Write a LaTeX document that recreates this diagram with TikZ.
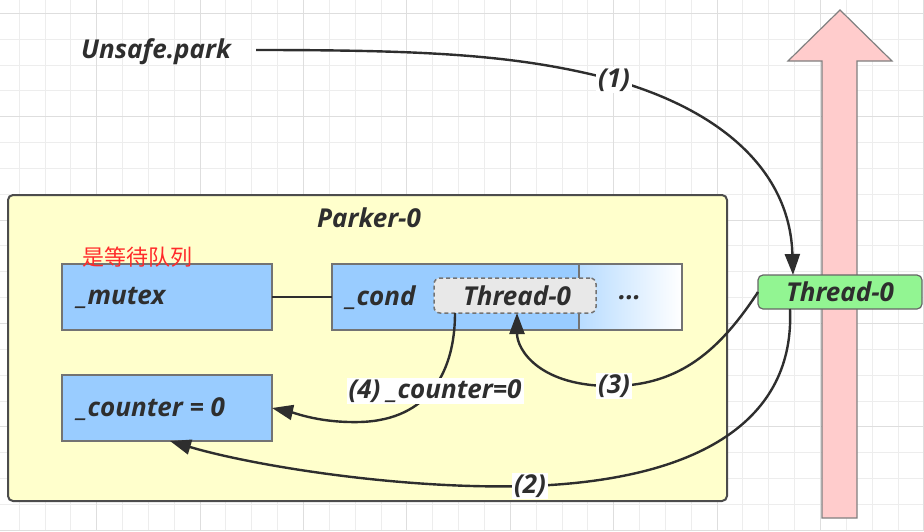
\documentclass[tikz,border=0pt]{standalone}
\usepackage{fontspec}
\setmainfont{Open Sans}
\newfontfamily\cjk{Noto Sans CJK SC}
\usetikzlibrary{arrows.meta}
\definecolor{txt}{HTML}{2E2E2E}
\definecolor{gridminor}{HTML}{EDEDED}
\definecolor{gridmajor}{HTML}{DEDEDE}
\definecolor{parkerfill}{HTML}{FFFFCC}
\definecolor{bluefill}{HTML}{99CCFF}
\definecolor{lightblue}{HTML}{B8DCFF}
\definecolor{greenfill}{HTML}{92F592}
\definecolor{pinkfill}{HTML}{FFCCCC}
\definecolor{dashfill}{HTML}{E8E8E8}
\definecolor{redtext}{HTML}{FF2A2A}
\tikzset{
  lbl/.style={text=txt, font=\fontsize{26}{30}\selectfont\bfseries\itshape, inner sep=1pt},
  lblbg/.style={lbl, fill=white, inner sep=2pt},
  bluebox/.style={draw=black!55, line width=1.2pt, fill=bluefill, minimum width=210pt, minimum height=66pt, anchor=north west, outer sep=0pt},
  conn/.style={draw=txt, line width=2.4pt, -{Triangle[length=21pt,width=15pt]}},
  plainconn/.style={draw=txt, line width=2.4pt},
}
\begin{document}
\begin{tikzpicture}[x=1pt,y=-1pt]
\useasboundingbox (0,0) rectangle (924,531);
\fill[white] (0,0) rectangle (924,531);
% grid
\foreach \i in {0,...,37} {
  \draw[gridminor, line width=1pt] ({-6.7+25.85*\i},0) -- ({-6.7+25.85*\i},531);
}
\foreach \j in {0,...,21} {
  \draw[gridminor, line width=1pt] (0,{13.3+25.85*\j}) -- (924,{13.3+25.85*\j});
}
\foreach \i in {0,...,9} {
  \draw[gridmajor, line width=1pt] ({-6.7+103.4*\i},0) -- ({-6.7+103.4*\i},531);
}
\foreach \j in {0,...,5} {
  \draw[gridmajor, line width=1pt] (0,{13.3+103.4*\j}) -- (924,{13.3+103.4*\j});
}

% big pink arrow
\draw[draw=black!50, line width=1.2pt, fill=pinkfill]
  (822,518) -- (822,61) -- (788,61) -- (840,10) -- (892,61) -- (857,61) -- (857,518) -- cycle;

% Parker box
\node[draw=black!70, line width=2pt, fill=parkerfill, rounded corners=5pt,
      minimum width=719pt, minimum height=306pt, anchor=north west, outer sep=0pt] (parker) at (8,195) {};
\node[lbl] (parkerlbl) at (369,218) {Parker-0};

% mutex
\node[bluebox] (mutex) at (62,264) {};
\node[lbl, anchor=west] (mutextxt) at (76,298) {\_mutex};
\node[text=redtext, font=\cjk\fontsize{22}{26}\selectfont, inner sep=0pt, anchor=west] (redtxt) at (82,257) {是等待队列};

% cond
\node[bluebox, minimum width=247pt] (cond) at (332,264) {};
\node[draw=black!55, line width=1.2pt, left color=lightblue, right color=white,
      minimum width=103pt, minimum height=66pt, anchor=north west, outer sep=0pt] (condrest) at (579,264) {};
\node[lbl, anchor=west] (condtxt) at (345,298) {\_cond};
\node[draw=black!55, dash pattern=on 4pt off 3pt, line width=1.5pt, fill=dashfill, rounded corners=6pt,
      minimum width=162pt, minimum height=35pt, anchor=north west, outer sep=0pt] (th) at (434,278) {};
\node[lbl] (thtxt) at ([xshift=2pt]th.center) {Thread-0};
\node[lbl] (dots) at (630,298) {...};

% counter
\node[bluebox] (counter) at (62,375) {};
\node[lbl, anchor=west] (countertxt) at (76,409) {\_counter = 0};

% mutex -- cond
\draw[plainconn] (mutex.east) -- (cond.west);

% green thread node
\node[draw=black!60, line width=1.2pt, fill=greenfill, rounded corners=5pt,
      minimum width=164pt, minimum height=34pt, anchor=north west, outer sep=0pt] (green) at (758,275) {};
\node[lbl] (greentxt) at (green.center) {Thread-0};

% Unsafe.park
\node[lbl, anchor=west] (unsafe) at (80,52) {Unsafe.park};

% (1)
\draw[conn] ([xshift=24pt,yshift=2pt]unsafe.east) .. controls (430,50) and (520,55) .. (614,80)
   .. controls (720,110) and (790,170) .. ([xshift=35pt]green.north west);
\node[lblbg] (l1) at (614,80) {(1)};

% (2)
\draw[conn] ([xshift=32pt]green.south west) .. controls (795,420) and (700,480) .. (530,486)
   .. controls (400,490) and (250,465) .. ([xshift=108pt]counter.south west);
\node[lblbg] (l2) at (530,486) {(2)};

% (3)
\draw[conn] (green.west) .. controls (720,350) and (680,385) .. (614,386)
   .. controls (540,387) and (517,350) .. ([xshift=83pt]th.south west);
\node[lblbg] (l3) at (614,386) {(3)};

% (4)
\draw[conn] ([xshift=21pt]th.south west) .. controls (455,370) and (430,420) .. (360,422)
   .. controls (320,423) and (295,413) .. (counter.east);
\node[lblbg] (l4) at (435,391) {(4) \_counter=0};
\end{tikzpicture}
\end{document}
